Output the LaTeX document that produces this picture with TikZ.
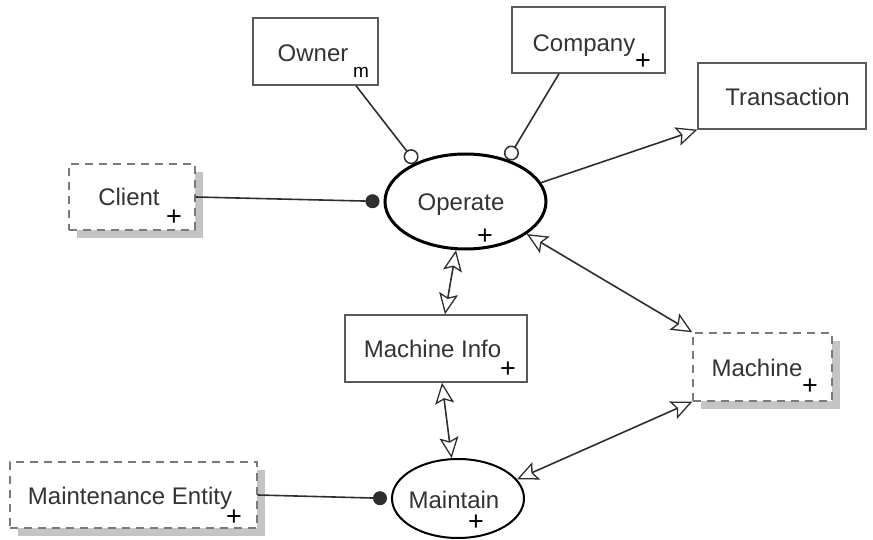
\documentclass[tikz,border=0pt]{standalone}
\usepackage{fontspec}
\setmainfont{Liberation Sans}
\usetikzlibrary{arrows.meta,shapes.geometric,shadows,calc}

\definecolor{edgegray}{HTML}{5A5A5A}
\definecolor{dashgray}{HTML}{7A7A7A}
\definecolor{shadowgray}{HTML}{C4C4C4}
\definecolor{ink}{HTML}{2E2E2E}
\definecolor{txt}{HTML}{333333}

\tikzset{
  entity/.style={draw=edgegray, line width=1.4pt, fill=white, inner sep=0pt},
  extentity/.style={draw=dashgray, line width=1.4pt, dash pattern=on 8pt off 6pt,
    fill=white, inner sep=0pt,
    general shadow={fill=shadowgray, shadow xshift=8pt, shadow yshift=-8pt}},
  process/.style={ellipse, draw=black, fill=white, inner sep=0pt},
  nametext/.style={anchor=base, text=txt, font=\fontsize{24}{28}\selectfont, inner sep=0pt},
  plusmark/.style={text=black, font=\fontsize{27}{30}\selectfont, inner sep=0pt,
    text height=16pt, text depth=0pt},
  linkline/.style={draw=ink, line width=1.6pt},
  flow/.style={linkline, {Stealth[open, length=21pt, width=19pt, inset=4pt, line width=1.3pt]}-{Stealth[open, length=21pt, width=19pt, inset=4pt, line width=1.3pt]}},
  oneway/.style={linkline, -{Stealth[open, length=21pt, width=19pt, inset=4pt, line width=1.3pt]}},
  optend/.style={linkline, -{Circle[open, length=15pt, width=15pt, line width=1.5pt]}},
  reqend/.style={linkline, -{Circle[length=14pt, width=14pt]}, shorten >=4pt},
}

\begin{document}
\begin{tikzpicture}[x=1pt, y=-1pt]
\useasboundingbox (0,0) rectangle (873,540);

% boxes
\node[entity, minimum width=125pt, minimum height=67pt] (owner) at (315.5,51.5) {};
\node[entity, minimum width=153pt, minimum height=66pt] (company) at (588.5,40) {};
\node[entity, minimum width=168pt, minimum height=66pt] (transaction) at (782,96) {};
\node[extentity, minimum width=126pt, minimum height=66pt] (client) at (132,197) {};
\node[entity, minimum width=182pt, minimum height=67pt] (minfo) at (436,348.5) {};
\node[extentity, minimum width=139pt, minimum height=68pt] (machine) at (762.5,367) {};
\node[extentity, minimum width=247pt, minimum height=66pt] (mentity) at (133.5,495) {};

% processes
\node[process, line width=3pt, minimum width=161pt, minimum height=95pt] (operate) at (465.5,201.5) {};
\node[process, line width=2pt, minimum width=132pt, minimum height=79pt] (maintain) at (458,498.5) {};

% names
\node[nametext] (ownert) at (313,62) {Owner};
\node[text=black, inner sep=0pt, font=\fontsize{19}{21}\selectfont] (ownerm) at (361,72) {m};
\node[nametext] (companyt) at (584,52) {Company};
\node[plusmark] (companyp) at (643,62) {+};
\node[nametext] (transt) at (787.5,106) {Transaction};
\node[nametext] (clientt) at (129,206) {Client};
\node[plusmark] (clientp) at (174,218) {+};
\node[nametext] (operatet) at (461,211) {Operate};
\node[plusmark] (operatep) at (485,236) {+};
\node[nametext] (minfot) at (432.5,357) {Machine Info};
\node[plusmark] (minfop) at (508,369) {+};
\node[nametext] (machinet) at (757,376) {Machine};
\node[plusmark] (machinep) at (810,386) {+};
\node[nametext] (mentityt) at (130,504) {Maintenance Entity};
\node[plusmark] (mentityp) at (234,517) {+};
\node[nametext] (maintaint) at (454,508) {Maintain};
\node[plusmark] (maintainp) at (476,522) {+};

% connectors
\draw[optend] ([xshift=40.5pt]owner.south) -- (operate.142);
\draw[optend] ([xshift=-29.5pt]company.south) -- (operate.45);
\draw[oneway] (operate.14) -- (transaction.south west);
\draw[reqend] (client.east) -- (operate.west);
\draw[flow] (operate.259) -- ([xshift=9pt]minfo.north);
\draw[flow] (operate.-28) -- (machine.north west);
\draw[flow] (machine.south west) -- (maintain.18);
\draw[flow] ([xshift=6pt]minfo.south) -- (maintain.99);
\draw[reqend] (mentity.east) -- (maintain.west);
\end{tikzpicture}
\end{document}
